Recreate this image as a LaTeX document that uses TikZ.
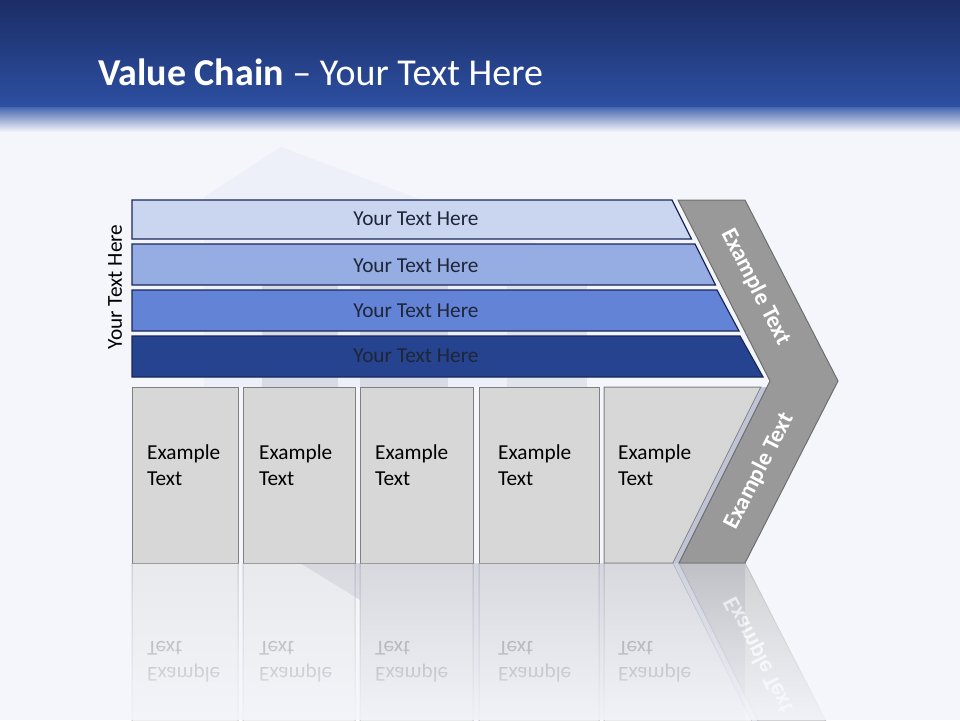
\documentclass[tikz,border=0pt]{standalone}
\usepackage{fontspec}
\setmainfont{Carlito}
\usetikzlibrary{fadings}
\definecolor{bgc}{HTML}{F4F6FB}
\definecolor{hdtop}{HTML}{1B2D66}
\definecolor{hdbot}{HTML}{2D50A2}
\definecolor{barone}{HTML}{CAD6F0}
\definecolor{bartwo}{HTML}{95ADE3}
\definecolor{barthree}{HTML}{6383D6}
\definecolor{barfour}{HTML}{25438E}
\definecolor{barline}{HTML}{18285A}
\definecolor{bartext}{HTML}{1E2638}
\definecolor{chevfill}{HTML}{999999}
\definecolor{chevline}{HTML}{6E6E6E}
\definecolor{boxfill}{HTML}{D7D7D7}
\definecolor{boxline}{HTML}{7F7F7F}
\definecolor{bevel}{HTML}{BFC4D8}
\definecolor{ghostlight}{HTML}{EDF0F8}
\definecolor{ghostgray}{HTML}{C6C9D6}
\tikzfading[name=reflfade, top color=transparent!85, bottom color=transparent!10]
\tikzset{
  barshape/.style={draw=barline, line width=1.2pt},
  bartxt/.style={font=\fontsize{21.3}{26}\selectfont, text=bartext, inner sep=0pt},
  boxshape/.style={fill=boxfill, draw=boxline, line width=1pt},
  boxtxt/.style={font=\fontsize{21.3}{26}\selectfont, text=black, align=left, inner sep=0pt, anchor=base west},
  chevshape/.style={fill=chevfill, draw=chevline, line width=1pt},
  chevtxt/.style={font=\fontsize{23.3}{28}\selectfont\bfseries, text=white, inner sep=0pt},
}
\newcommand{\lowerpart}{%
  \path[boxshape] (132,387) rectangle (238,563);
  \path[boxshape] (243,387) rectangle (355,563);
  \path[boxshape] (360,387) rectangle (473,563);
  \path[boxshape] (479,387) rectangle (599,563);
  \path[boxshape] (604,387) -- (761,387) -- (673,563) -- (604,563) -- cycle;
  \fill[bevel] (761.5,387) -- (767,387) -- (679,563) -- (673.5,563) -- cycle;
  \path[chevshape] (678,200) -- (745,200) -- (838,381) -- (745,563) -- (679,563) -- (770,381) -- cycle;
  \node[boxtxt] (t1) at (147,485) {Example\\Text};
  \node[boxtxt] (t2) at (259,485) {Example\\Text};
  \node[boxtxt] (t3) at (375,485) {Example\\Text};
  \node[boxtxt] (t4) at (498,485) {Example\\Text};
  \node[boxtxt] (t5) at (618,485) {Example\\Text};
  \node[chevtxt, rotate=-62.8] (c1) at (756,287) {Example Text};
  \node[chevtxt, rotate=62.8] (c2) at (759,471) {Example Text};
}
\begin{document}
\begin{tikzpicture}[x=1pt, y=-1pt]
\useasboundingbox (0,0) rectangle (960,720);
% background
\fill[bgc] (0,0) rectangle (960,720);
% header
\shade[top color=hdtop, bottom color=hdbot] (0,0) rectangle (960,108);
\shade[top color=hdbot!85!bgc, bottom color=bgc] (0,107.5) rectangle (960,132);
\node[anchor=base west, text=white, inner sep=0pt, font=\fontsize{38}{45}\selectfont] (title) at (98,85)
  {\textbf{Value Chain} – Your Text Here};
% ghost shape behind
\fill[ghostlight] (204,197) -- (281,147) -- (560,252) -- (560,387) -- (204,387) -- cycle;
\fill[ghostgray!60!bgc] (262,262) rectangle (338,387);
\fill[ghostgray!60!bgc] (360,262) rectangle (448,387);
\fill[ghostgray!40!bgc] (507,262) rectangle (587,387);
% ghost in reflection
\fill[ghostgray!80!bgc] (300,563) -- (745,563) -- (745,720) -- (360,720) -- (360,600) -- cycle;
% bars
\path[barshape, fill=barone] (132,200) -- (672,200) -- (691.5,239) -- (132,239) -- cycle;
\path[barshape, fill=bartwo] (132,244) -- (695,244) -- (715.5,285) -- (132,285) -- cycle;
\path[barshape, fill=barthree] (132,290) -- (717,290) -- (739,331) -- (132,331) -- cycle;
\path[barshape, fill=barfour] (132,336) -- (740,336) -- (763,377) -- (132,377) -- cycle;
\node[bartxt] (b1) at (416,219) {Your Text Here};
\node[bartxt] (b2) at (416,266) {Your Text Here};
\node[bartxt] (b3) at (416,311) {Your Text Here};
\node[bartxt] (b4) at (416,356) {Your Text Here};
\node[bartxt, text=black, rotate=90] (side) at (115,287) {Your Text Here};
% lower part
\lowerpart
% reflection
\begin{scope}
\clip (0,563.5) rectangle (960,720);
\begin{scope}[shift={(0,1126)}, yscale=-1, transform shape, name prefix=r-, transparency group, opacity=0.45]
\lowerpart
\end{scope}
\end{scope}
\fill[bgc, path fading=reflfade] (0,563.5) rectangle (960,720);
\end{tikzpicture}
\end{document}
